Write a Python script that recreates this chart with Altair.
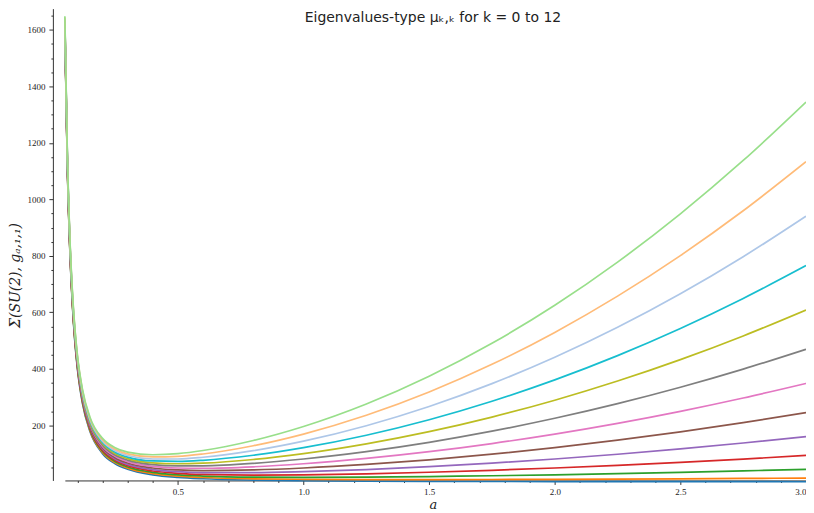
import altair as alt
import pandas as pd

title_text = "Eigenvalues-type μₖ,ₖ for k = 0 to 12"
x_title = "a"
y_title = "Σ(SU(2), gₐ,₁,₁)"

a_vals = [0.05, 0.06, 0.07, 0.08, 0.09, 0.10, 0.12, 0.15, 0.20, 0.25, 0.30, 0.40,
          0.50, 0.60, 0.80, 1.00, 1.25, 1.50, 1.75, 2.00, 2.25, 2.50, 2.75, 3.00]

k0 = [1600, 1111, 816, 625, 494, 400, 278, 178, 100, 64, 44.4, 25, 16, 11.1, 6.25, 4, 2.56, 1.78, 1.31, 1, 0.79, 0.64, 0.53, 0.44]
k1 = [1604, 1115, 820, 629, 498, 404, 282, 182, 104, 68.1, 48.5, 29.2, 20.3, 15.5, 10.9, 9, 8.12, 8.03, 8.37, 9, 9.85, 10.9, 12.1, 13.4]
k2 = [1608, 1119, 824, 633, 502, 408, 286, 186, 108, 72.3, 52.8, 33.6, 25, 20.6, 16.8, 16, 16.8, 18.8, 21.6, 25, 29.0, 33.6, 38.8, 44.4]
k3 = [1612, 1123, 828, 637, 506, 412, 290, 190, 112, 76.6, 57.3, 38.4, 30.3, 26.4, 24.0, 25, 28.6, 34.0, 40.9, 49, 58.4, 68.9, 80.6, 93.4]
k4 = [1616, 1127, 832, 641, 510, 416, 294, 194, 117, 81, 61.9, 43.6, 36, 32.9, 32.5, 36, 43.6, 53.8, 66.3, 81, 97.8, 116.6, 137.5, 160.4]
k5 = [1620, 1131, 836, 645, 514, 420, 298, 198, 121, 85.6, 66.7, 49, 42.3, 40.1, 42.3, 49, 61.6, 78.0, 97.9, 121, 147.4, 176.9, 209.6, 245.4]
k6 = [1624, 1135, 841, 649, 518, 424, 302, 203, 125, 90.3, 71.7, 54.8, 49, 48.1, 53.3, 64, 82.8, 106.8, 135.6, 169, 207.0, 249.6, 296.8, 348.4]
k7 = [1628, 1139, 845, 653, 522, 428, 307, 207, 130, 95.1, 76.9, 60.8, 56.3, 56.8, 65.6, 81, 107.1, 140.0, 179.4, 225, 276.9, 334.9, 399.1, 469.4]
k8 = [1632, 1143, 849, 657, 526, 433, 311, 211, 135, 100, 82.2, 67.2, 64, 66.2, 79.2, 100, 134.6, 177.8, 229.3, 289, 356.8, 432.6, 516.5, 608.4]
k9 = [1636, 1147, 853, 661, 530, 437, 315, 216, 139, 105.1, 87.7, 74.0, 72.3, 76.3, 94.1, 121, 165.1, 220.0, 285.4, 361, 446.9, 542.9, 649.1, 765.4]
k10 = [1640, 1151, 857, 666, 535, 441, 319, 220, 144, 110.3, 93.4, 81, 81, 87.1, 110.3, 144, 198.8, 266.8, 347.6, 441, 547.0, 665.6, 796.8, 940.4]
k11 = [1644, 1155, 861, 670, 539, 445, 324, 225, 149, 115.6, 99.3, 88.4, 90.3, 98.7, 127.7, 169, 235.6, 318.0, 415.9, 529, 657.4, 800.9, 959.6, 1133.4]
k12 = [1648, 1160, 865, 674, 543, 449, 328, 229, 154, 121, 105.4, 96.0, 100, 110.9, 146.4, 196, 275.6, 373.8, 490.3, 625, 777.8, 948.6, 1137.5, 1344.4]

series = [k0, k1, k2, k3, k4, k5, k6, k7, k8, k9, k10, k11, k12]
k_labels = list(range(13))
colors = ["#1f77b4", "#ff7f0e", "#2ca02c", "#d62728", "#9467bd", "#8c564b",
          "#e377c2", "#7f7f7f", "#bcbd22", "#17becf", "#aec7e8", "#ffbb78", "#98df8a"]

x_ticks = [0.1, 0.2, 0.3, 0.4, 0.5, 0.6, 0.7, 0.8, 0.9, 1.0,
           1.1, 1.2, 1.3, 1.4, 1.5, 1.6, 1.7, 1.8, 1.9, 2.0,
           2.1, 2.2, 2.3, 2.4, 2.5, 2.6, 2.7, 2.8, 2.9, 3.0]
y_ticks = [50, 100, 150, 200, 250, 300, 350, 400, 450, 500, 550, 600, 650, 700, 750, 800,
           850, 900, 950, 1000, 1050, 1100, 1150, 1200, 1250, 1300, 1350, 1400, 1450, 1500,
           1550, 1600, 1650]

rows = []
for k, vals in zip(k_labels, series):
    for a, v in zip(a_vals, vals):
        rows.append({"a": a, "mu": v, "k": k})
df = pd.DataFrame(rows)

axis_col = "#333333"
x_major = "abs(datum.value*2 - round(datum.value*2)) < 0.001"
y_major = "datum.value % 200 === 0"

lines = alt.Chart(df).mark_line(strokeWidth=1.7, interpolate="monotone").encode(
    x=alt.X("a:Q", scale=alt.Scale(domain=[0.05, 3.0], nice=False, zero=False),
            axis=alt.Axis(values=x_ticks, title=x_title, grid=False,
                          labelExpr=f"{x_major} ? format(datum.value, '.1f') : ''",
                          tickSize={"condition": {"test": x_major, "value": 4}, "value": 2},
                          labelFont="Liberation Serif", labelFontSize=9, labelPadding=3,
                          labelColor="#222222", labelFlush=True, labelOverlap=False,
                          domainColor=axis_col, tickColor=axis_col,
                          titleFont="DejaVu Serif", titleFontStyle="italic",
                          titleFontWeight="normal", titleFontSize=13, titleColor="#222222",
                          titleX=369, titleY=28, titleBaseline="alphabetic",
                          titleAlign="center")),
    y=alt.Y("mu:Q", scale=alt.Scale(domain=[5, 1675], nice=False, zero=False),
            axis=alt.Axis(values=y_ticks, title=y_title, grid=False, offset=12,
                          labelExpr=f"{y_major} ? datum.label : ''",
                          format="d",
                          tickSize={"condition": {"test": y_major, "value": 4}, "value": 2},
                          labelFont="Liberation Serif", labelFontSize=9, labelPadding=4,
                          labelColor="#222222", labelFlush=False, labelOverlap=False,
                          domainColor=axis_col, tickColor=axis_col,
                          titleFont="DejaVu Serif", titleFontStyle="italic",
                          titleFontWeight="normal", titleFontSize=14, titleColor="#222222",
                          titleX=-37, titleY=267, titleAngle=-90,
                          titleBaseline="middle", titleAlign="center")),
    color=alt.Color("k:O", scale=alt.Scale(domain=k_labels, range=colors), legend=None),
    detail="k:O",
)

title_df = pd.DataFrame({"t": [title_text]})
title = alt.Chart(title_df).mark_text(
    font="DejaVu Sans", fontSize=14, color="#222222", align="center", baseline="top"
).encode(text="t:N", x=alt.value(369), y=alt.value(2))

chart = alt.layer(lines, title).properties(
    width=743, height=473,
    autosize=alt.AutoSizeParams(type="none"),
    padding={"left": 57, "top": 0, "right": 0, "bottom": 30},
    background="white",
).configure_view(stroke=None)

chart.save("out.html", embed_options={"renderer": "svg", "actions": False})
